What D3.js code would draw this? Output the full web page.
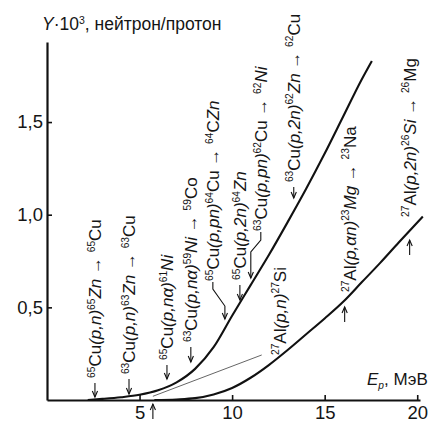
<!DOCTYPE html>
<html>
<head>
<meta charset="utf-8">
<script src="https://cdn.jsdelivr.net/npm/d3@7"></script>
<style>
  body { margin: 0; background: #fff; }
  svg { display: block; }
  text { font-family: "Liberation Sans", Arial, sans-serif; fill: #151515; }
</style>
</head>
<body>
<svg id="chart" width="432" height="426"></svg>
<script>
// Neutron yield (Y·10^3, neutrons per proton) versus proton energy Ep (MeV)
const cuEnergy = [2.2, 3, 4, 5, 6, 7, 8, 9, 10, 11, 12, 13, 14, 15, 16, 17, 17.55];
const cuYield  = [0, 0.006, 0.015, 0.028, 0.052, 0.095, 0.168, 0.285, 0.455, 0.62, 0.785, 0.96, 1.14, 1.33, 1.53, 1.73, 1.83];

const alEnergy = [5.8, 7, 8, 9, 10, 11, 12, 13, 14, 15, 16, 17, 18, 19, 20.3];
const alYield  = [0, 0.003, 0.01, 0.03, 0.065, 0.12, 0.19, 0.27, 0.355, 0.44, 0.53, 0.635, 0.74, 0.85, 0.99];

const xTickValues = [5, 10, 15, 20];
const xTickLabels = ["5", "10", "15", "20"];
const yTickValues = [0.5, 1.0, 1.5];
const yTickLabels = ["0,5", "1,0", "1,5"];

// Reaction thresholds on the copper curve: {x} = superscript, _x_ = italic.
// Arrows are given by energy E and the yield at their tip / tail.
const cuReactions = [
  { text: "{65}Cu_(p,n)_{65}_Zn_ \u2192 {65}Cu", E: 2.59, tip: 0.016, tail: 0.092 },
  { text: "{63}Cu_(p,n)_{63}_Zn_ \u2192 {63}Cu", E: 4.43, tip: 0.032, tail: 0.113 },
  { text: "{65}Cu_(p,n\u03B1)_{61}_Ni_", E: 6.48, tip: 0.113, tail: 0.189 },
  { text: "{63}Cu_(p,n\u03B1)_{59}_Ni_ \u2192 {59}Co", E: 7.77, tip: 0.205, tail: 0.286 },
  { text: "{65}Cu_(p,pn)_{64}Cu \u2192 {64}C_Zn_",
    leader: [[8.96, 0.637], [8.96, 0.599], [9.61, 0.507], [9.61, 0.437]] },
  { text: "{65}Cu_(p,2n)_{64}_Zn_", E: 10.42, tip: 0.54, tail: 0.621 },
  { text: "{63}Cu_(p,pn)_{62}Cu \u2192 {62}_Ni_",
    leader: [[11.55, 0.907], [11.55, 0.863], [11.01, 0.799], [11.01, 0.658]] },
  { text: "{63}Cu_(p,2n)_{62}_Zn_ \u2192 {62}Cu", E: 13.33, tip: 1.09, tail: 1.149 }
];

// Reactions on the aluminium curve (arrows pointing up); labels placed at (labelE, labelY)
const alReactions = [
  { text: "{27}Al_(p,n)_{27}Si", E: 5.72, tip: -0.022, tail: -0.103, labelE: 12.57, labelY: 0.243 },
  { text: "{27}Al_(p,\u03B1n)_{23}_Mg_ \u2192 {23}Na", E: 16.08, tip: 0.502, tail: 0.421, labelE: 16.35, labelY: 0.583 },
  { text: "{27}Al_(p,2n)_{26}_Si_ \u2192 {26}Mg", E: 19.59, tip: 0.863, tail: 0.783, labelE: 19.59, labelY: 0.988 }
];
// thin connector from the Al(p,n) threshold to its label
const alLeader = [[5.72, 0.02], [11.6, 0.243]];

const FS = 17;       // reaction labels and axis titles
const TICK_FS = 18.5; // tick numbers
const svg = d3.select("#chart");

const x = d3.scaleLinear().domain([0, 20.15]).range([47, 420]);
const y = d3.scaleLinear().domain([0, 1.932]).range([400, 42]);

// ---- axes ----
const yAxis = d3.axisLeft(y)
  .tickValues(yTickValues)
  .tickFormat((d, i) => yTickLabels[i])
  .tickSizeInner(-5).tickSizeOuter(0).tickPadding(4);
const xAxis = d3.axisBottom(x)
  .tickValues(xTickValues)
  .tickFormat((d, i) => xTickLabels[i])
  .tickSizeInner(-5).tickSizeOuter(0).tickPadding(6);

function styleAxis(g) {
  g.attr("font-size", null).attr("font-family", null);
  g.select(".domain").attr("stroke", "#111").attr("stroke-width", 2.2);
  g.selectAll(".tick line").attr("stroke", "#111").attr("stroke-width", 1.6);
  g.selectAll(".tick text").attr("fill", "#151515").style("font-size", TICK_FS + "px");
}
svg.append("g").attr("transform", `translate(${x(0)},0)`).call(yAxis).call(styleAxis);
svg.append("g").attr("transform", `translate(0,${y(0)})`).call(xAxis).call(styleAxis);

// ---- rich text helper ----
function parseRich(str) {
  const segs = [];
  let cur = "", sup = false, sub = false, it = false;
  const flush = () => { if (cur) segs.push({ t: cur, sup, sub, it }); cur = ""; };
  for (const ch of str) {
    if (ch === "{") { flush(); sup = true; }
    else if (ch === "}") { flush(); sup = false; }
    else if (ch === "[") { flush(); sub = true; }
    else if (ch === "]") { flush(); sub = false; }
    else if (ch === "_") { flush(); it = !it; }
    else cur += ch;
  }
  flush();
  return segs;
}
function richText(textSel, str, size) {
  let shift = 0;
  parseRich(str).forEach(s => {
    const target = s.sup ? -size * 0.37 : s.sub ? size * 0.22 : 0;
    textSel.append("tspan")
      .attr("dy", target - shift)
      .style("font-size", (s.sup || s.sub ? size * 0.6 : size) + "px")
      .style("font-style", s.it ? "italic" : "normal")
      .text(s.t);
    shift = target;
  });
}
function verticalLabel(cx, yBottom, str) {
  const t = svg.append("text")
    .attr("transform", `translate(${cx + 6},${yBottom}) rotate(-90)`);
  richText(t, str, FS);
}

// ---- curves ----
const line = d3.line().x(d => x(d[0])).y(d => y(d[1])).curve(d3.curveMonotoneX);
svg.append("path")
  .datum(cuEnergy.map((e, i) => [e, cuYield[i]]))
  .attr("d", line).attr("fill", "none").attr("stroke", "#111").attr("stroke-width", 2.1);
svg.append("path")
  .datum(alEnergy.map((e, i) => [e, alYield[i]]))
  .attr("d", line).attr("fill", "none").attr("stroke", "#111").attr("stroke-width", 2.1);

svg.append("path")
  .attr("d", d3.line().x(d => x(d[0])).y(d => y(d[1]))(alLeader))
  .attr("fill", "none").attr("stroke", "#666").attr("stroke-width", 1);

// ---- arrows ----
function arrowHead(px, py, dir) {
  // dir = +1 pointing down, -1 pointing up
  svg.append("path")
    .attr("d", `M${px - 2.6},${py - dir * 6} L${px},${py} L${px + 2.6},${py - dir * 6}`)
    .attr("fill", "none").attr("stroke", "#111").attr("stroke-width", 1.1);
}
function straightArrow(E, tipY, tailY) {
  const px = x(E), yTip = y(tipY), yTail = y(tailY);
  svg.append("line").attr("x1", px).attr("x2", px).attr("y1", yTail).attr("y2", yTip)
    .attr("stroke", "#111").attr("stroke-width", 1.1);
  arrowHead(px, yTip, yTip > yTail ? 1 : -1);
}
function leaderArrow(pts) {
  svg.append("path")
    .attr("d", d3.line().x(d => x(d[0])).y(d => y(d[1])).curve(d3.curveLinear)(pts))
    .attr("fill", "none").attr("stroke", "#111").attr("stroke-width", 1.1);
  const last = pts[pts.length - 1];
  arrowHead(x(last[0]), y(last[1]), 1);
}

cuReactions.forEach(r => {
  if (r.leader) {
    leaderArrow(r.leader);
    verticalLabel(x(r.leader[0][0]), y(r.leader[0][1]) - 1, r.text);
  } else {
    straightArrow(r.E, r.tip, r.tail);
    verticalLabel(x(r.E), y(r.tail) - 5, r.text);
  }
});
alReactions.forEach(r => {
  straightArrow(r.E, r.tip, r.tail);
  verticalLabel(x(r.labelE), y(r.labelY), r.text);
});

// ---- axis titles ----
const yTitle = svg.append("text").attr("x", 42).attr("y", 30);
richText(yTitle, "_Y_\u00B710{3}, нейтрон/протон", 17.5);
const xTitle = svg.append("text").attr("x", 367).attr("y", 385);
richText(xTitle, "_E_[_p_], МэВ", FS);
</script>
</body>
</html>
